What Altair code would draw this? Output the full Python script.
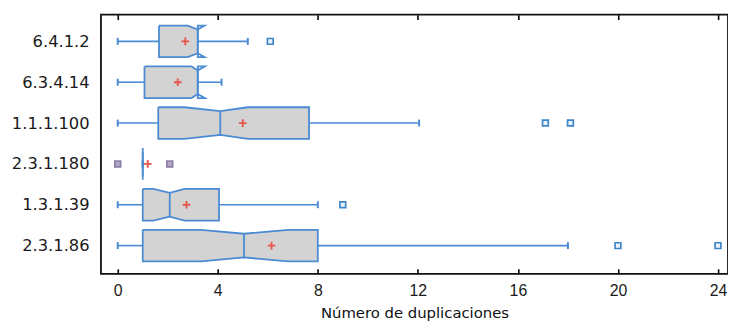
import altair as alt
import pandas as pd

# ---- data ----
categories = ["6.4.1.2", "6.3.4.14", "1.1.1.100", "2.3.1.180", "1.3.1.39", "2.3.1.86"]
whisker_low = [0, 0, 0, 1, 0, 0]
q1 = [1.65, 1.07, 1.62, 1.0, 1.0, 1.0]
median = [3.2, 3.2, 4.1, 1.0, 2.08, 5.05]
q3 = [3.2, 3.2, 7.65, 1.0, 4.05, 8.0]
whisker_high = [5.2, 4.15, 12.05, 1.0, 8.0, 18.0]
notch_low = [2.8, 2.95, 2.67, 1.0, 1.42, 3.33]
notch_high = [3.47, 3.48, 5.2, 1.0, 2.67, 6.82]
means = [2.7, 2.4, 5.0, 1.2, 2.75, 6.15]
outlier_row = [0, 2, 2, 3, 3, 4, 5, 5]
outlier_value = [6.1, 17.1, 18.1, 0, 2.08, 9.0, 20.0, 24.0]
x_ticks = [0, 4, 8, 12, 16, 20, 24]

# ---- geometry constants (row units) ----
H = 0.387   # half box height
HN = 0.29   # half height at the notch
CAP = 0.085

BLUE = "#4a8bd4"
FILL = "#d3d3d3"
RED = "#e5564b"

rows = list(range(len(categories)))

outline = []
fill = []
for i in rows:
    a, lo, m, hi, b = q1[i], notch_low[i], median[i], notch_high[i], q3[i]
    pts = [(a, i - H), (lo, i - H), (m, i - HN), (hi, i - H), (b, i - H),
           (b, i + H), (hi, i + H), (m, i + HN), (lo, i + H), (a, i + H), (a, i - H)]
    for k, (x, y) in enumerate(pts):
        outline.append({"row": i, "k": k, "x": x, "y": y})
    # filled part, clamped inside [q1, q3]
    lo_c = max(lo, a)
    fill.append({"row": i, "x": a, "top": i - H, "bot": i + H})
    fill.append({"row": i, "x": lo_c, "top": i - H, "bot": i + H})
    fill.append({"row": i, "x": m, "top": i - HN, "bot": i + HN})
    if hi <= b:
        fill.append({"row": i, "x": hi, "top": i - H, "bot": i + H})
        fill.append({"row": i, "x": b, "top": i - H, "bot": i + H})
    else:
        t = (b - m) / (hi - m) if hi > m else 0
        hh = HN + (H - HN) * t
        fill.append({"row": i, "x": b, "top": i - hh, "bot": i + hh})

stats = pd.DataFrame({
    "row": rows, "low": whisker_low, "q1": q1, "med": median, "q3": q3,
    "high": whisker_high, "mean": means,
})
stats["ntop"] = stats["row"] - HN
stats["nbot"] = stats["row"] + HN
stats["ctop"] = stats["row"] - CAP
stats["cbot"] = stats["row"] + CAP

outliers = pd.DataFrame({"row": outlier_row, "value": outlier_value})

xscale = alt.Scale(domain=[-0.67, 24.4], nice=False, zero=False)
yscale = alt.Scale(domain=[-0.654, 5.69], reverse=True, nice=False, zero=False)

xaxis = alt.Axis(values=x_ticks, title="Número de duplicaciones", orient="bottom",
                 offset=-5, tickSize=5, tickWidth=1.6, tickColor="black",
                 domain=False, grid=False, labelPadding=9, labelFontSize=16,
                 labelFont="Liberation Sans Narrow, Liberation Sans", labelColor="#1a1a1a",
                 titleFont="DejaVu Sans", titleFontSize=15, titleFontWeight="normal",
                 titleColor="#111", titlePadding=7)
label_expr = "[" + ",".join("'%s'" % c for c in categories) + "][datum.value]"
yaxis = alt.Axis(values=rows, labelExpr=label_expr, title=None, ticks=False,
                 domain=False, grid=False, labelPadding=12, labelFontSize=16.5,
                 labelFont="DejaVu Sans", labelColor="#1a1a1a")


def X(field):
    return alt.X(field, type="quantitative", scale=xscale, axis=xaxis)


def Y(field):
    return alt.Y(field, type="quantitative", scale=yscale, axis=yaxis)


fill_layer = alt.Chart(pd.DataFrame(fill)).mark_area(orient="vertical", color=FILL).encode(
    x=X("x"), y=Y("top"), y2="bot", detail="row:N")

outline_layer = alt.Chart(pd.DataFrame(outline)).mark_line(
    color=BLUE, strokeWidth=1.8, strokeJoin="miter").encode(
    x=X("x"), y=Y("y"), detail="row:N", order="k:Q")

median_layer = alt.Chart(stats).mark_rule(color=BLUE, strokeWidth=1.8).encode(
    x=X("med"), y=Y("ntop"), y2="nbot")

whisk_lo = alt.Chart(stats).mark_rule(color=BLUE, strokeWidth=1.6).encode(
    x=X("low"), x2="q1", y=Y("row"))
whisk_hi = alt.Chart(stats).mark_rule(color=BLUE, strokeWidth=1.6).encode(
    x=X("q3"), x2="high", y=Y("row"))
cap_lo = alt.Chart(stats).mark_rule(color=BLUE, strokeWidth=2).encode(
    x=X("low"), y=Y("ctop"), y2="cbot")
cap_hi = alt.Chart(stats).mark_rule(color=BLUE, strokeWidth=2).encode(
    x=X("high"), y=Y("ctop"), y2="cbot")

mean_layer = alt.Chart(stats).mark_point(
    shape="M-1,0H1M0,-1V1", size=60, filled=False, color=RED, strokeWidth=1.9, opacity=1).encode(
    x=X("mean"), y=Y("row"))

out_layer = alt.Chart(outliers).mark_square(size=34, strokeWidth=1.7, opacity=1).encode(
    x=X("value"), y=Y("row"),
    stroke=alt.condition(alt.datum.row == 3, alt.value("#8a7ca6"), alt.value("#3f86c9")),
    fill=alt.condition(alt.datum.row == 3, alt.value("#b4aac6"), alt.value("#eaf2fa")))

main = alt.layer(fill_layer, outline_layer, median_layer, whisk_lo, whisk_hi,
                 cap_lo, cap_hi, mean_layer, out_layer)

top_axis = alt.Chart(stats).mark_point(opacity=0).encode(
    x=alt.X("mean", type="quantitative", scale=xscale,
            axis=alt.Axis(orient="top", values=x_ticks, labels=False, title=None,
                          offset=-5, tickSize=5, tickWidth=1.6, tickColor="black",
                          domain=False, grid=False)),
    y=Y("row"))

chart = alt.layer(main, top_axis).resolve_scale(x="independent").properties(
    width=634, height=262,
    autosize=alt.AutoSizeParams(type="none"),
    padding={"left": 94, "top": 5, "right": 0, "bottom": 46},
    background="white",
).configure_view(stroke="#111", strokeWidth=1.8)

chart.save("out.html", embed_options={"renderer": "svg", "actions": False})
